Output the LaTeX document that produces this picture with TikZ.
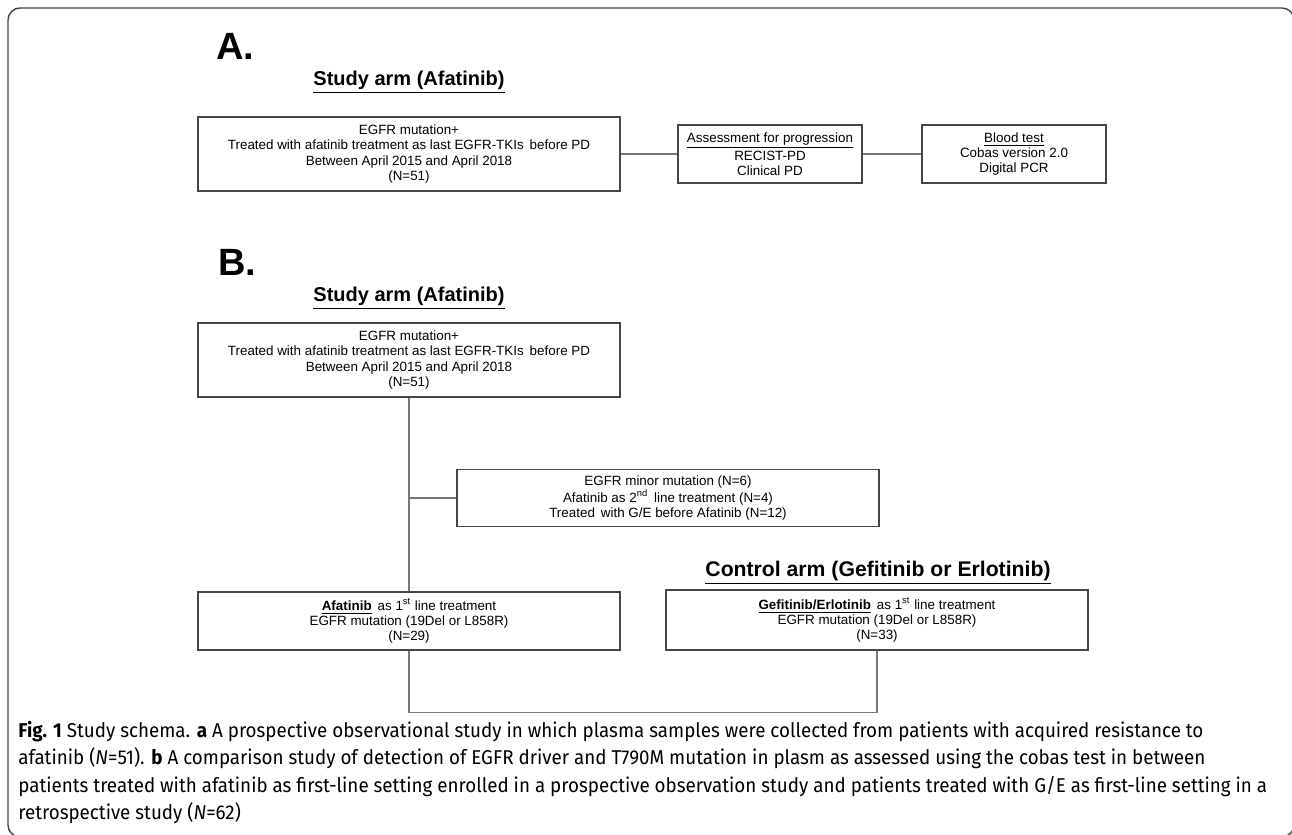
\documentclass[tikz,border=0pt]{standalone}
\usepackage{fontspec}
\setmainfont{Liberation Sans}
\newfontfamily\capfont[FakeStretch=0.94]{Fira Sans}
\usetikzlibrary{positioning}
\definecolor{schemaline}{RGB}{70,70,70}
\definecolor{schemathin}{RGB}{120,120,120}

\begin{document}
\begin{tikzpicture}[x=0.5pt,y=-0.5pt,
  schemabox/.style={draw=schemaline,line width=0.8pt,minimum width=211pt,minimum height=37pt,
    align=center,font=\fontsize{6.7}{7.6}\selectfont,inner sep=1pt},
  schemasmall/.style={schemabox,minimum width=92pt,minimum height=29pt},
  schematitle/.style={font=\fontsize{10}{12}\selectfont\bfseries,inner sep=1pt},
  schemapanel/.style={font=\fontsize{19}{22}\selectfont\bfseries,inner sep=0pt},
  schemalink/.style={draw=schemathin,line width=0.6pt}
]
  \useasboundingbox (0,0) rectangle (1292,835);
  \draw[schemaline,line width=0.7pt,rounded corners=6pt] (8,8) rectangle (1294,837);
  % Panel A: prospective arm
  \node[schemapanel] (pa) at (235,46) {A.};
  \node[schematitle] (ta) at (409,82) {\underline{Study arm (Afatinib)}};
  \node[schemabox] (a1) at (409,154) {
    EGFR mutation+\\
    Treated with afatinib treatment as last EGFR-TKIs\, before PD\\
    Between April 2015 and April 2018\\
    (N=51)};
  \node[schemasmall] (a2) at (770,154) {
    \underline{Assessment for progression}\\RECIST-PD\\Clinical PD};
  \node[schemasmall] (a3) at (1014,154) {
    \underline{Blood test}\\Cobas version 2.0\\Digital PCR};
  \draw[schemalink] (a1) -- (a2);
  \draw[schemalink] (a2) -- (a3);
  % Panel B: comparison with control arm
  \node[schemapanel] (pb) at (237,262) {B.};
  \node[schematitle] (tb) at (409,298) {\underline{Study arm (Afatinib)}};
  \node[schemabox] (b1) at (409,360) {
    EGFR mutation+\\
    Treated with afatinib treatment as last EGFR-TKIs\, before PD\\
    Between April 2015 and April 2018\\
    (N=51)};
  \node[schemabox,minimum height=28.5pt] (b2) at (668,498) {
    EGFR minor mutation (N=6)\\
    Afatinib as 2\textsuperscript{nd}\, line treatment (N=4)\\
    Treated\, with G/E before Afatinib (N=12)};
  \node[schematitle,font=\fontsize{10.6}{12}\selectfont\bfseries] (tc) at (878,573)
    {\underline{Control arm (Gefitinib or Erlotinib)}};
  \node[schemabox,minimum height=29pt] (b3) at (409,621) {
    \underline{\textbf{Afatinib}}\, as 1\textsuperscript{st} line treatment\\
    EGFR mutation (19Del or L858R)\\
    (N=29)};
  \node[schemabox,minimum height=30pt] (b4) at (877,620) {
    \underline{\textbf{Gefitinib/Erlotinib}}\, as 1\textsuperscript{st} line treatment\\
    EGFR mutation (19Del or L858R)\\
    (N=33)};
  \coordinate (split) at (b1.south |- b2.west);
  \draw[schemalink] (b1) -- (b3);
  \draw[schemalink] (split) -- (b2);
  \draw[schemalink] (b3.south) -- ++(0,62) -| (b4.south);
  % Caption
  \node[anchor=north west,align=left,inner sep=0pt,
    font=\capfont\fontsize{10}{13.6}\selectfont] (cap) at (18,721) {
    \textbf{Fig. 1} Study schema. \textbf{a} A prospective observational study in which plasma samples were collected from patients with acquired resistance to\\
    afatinib (\textit{N}=51). \textbf{b} A comparison study of detection of EGFR driver and T790M mutation in plasm as assessed using the cobas test in between\\
    patients treated with afatinib as first-line setting enrolled in a prospective observation study and patients treated with G/E as first-line setting in a\\
    retrospective study (\textit{N}=62)};
\end{tikzpicture}
\end{document}
